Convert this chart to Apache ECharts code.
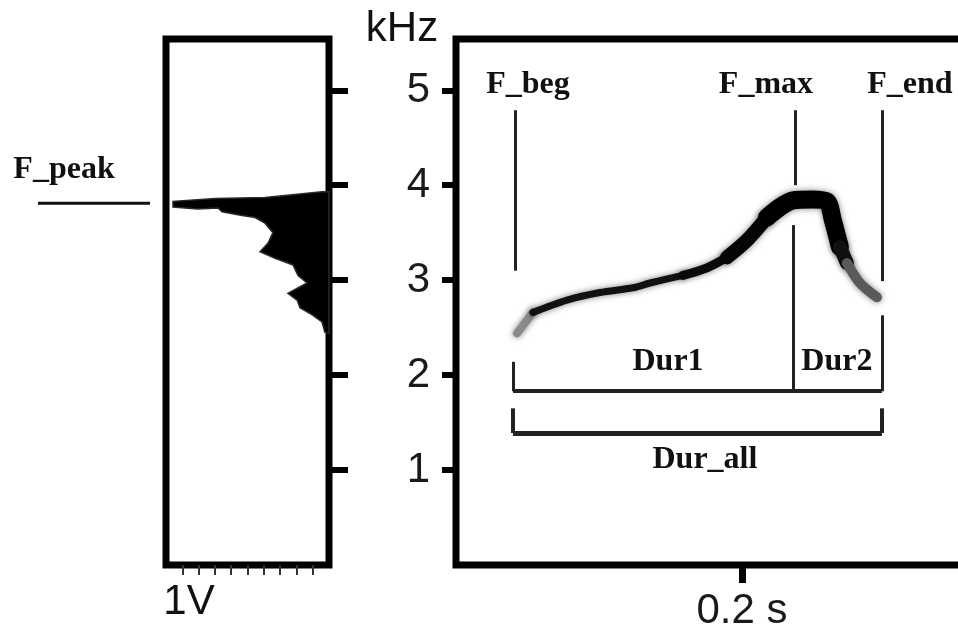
<!DOCTYPE html>
<html>
<head>
<meta charset="utf-8">
<title>F_peak / contour</title>
<script src="https://cdn.jsdelivr.net/npm/echarts@6.0.0/dist/echarts.min.js"></script>
<style>
    html, body {margin:0; padding:0; background:#fff;}
    #chart {width:958px; height:627px;}
</style>
</head>
<body>
<div id="chart"></div>
<script>
// ticks
var freqTicks = [1, 2, 3, 4, 5];
var timeTicks = [0.2];
var ampTicks = [1, 2, 3, 4, 5, 6, 7, 8, 9];

// power spectrum outline (amplitude, kHz), bottom to top and back to the axis
var specAmp  = [0, 0.25, 0.43, 0.98, 1.78, 1.96, 2.52, 1.35, 1.90, 2.21, 3.31, 4.23, 3.74, 3.44, 3.93, 4.54, 5.34, 6.56, 6.81, 8.04, 9.57, 9.57, 6.99, 3.93, 0.43, 0];
var specFreq = [2.44, 2.45, 2.56, 2.63, 2.71, 2.79, 2.86, 2.97, 3.05, 3.16, 3.23, 3.30, 3.39, 3.50, 3.60, 3.66, 3.68, 3.72, 3.76, 3.75, 3.77, 3.83, 3.86, 3.87, 3.93, 3.93];
var fPeak = 3.81;

// frequency contour (s, kHz)
var contourTime = [0.0427, 0.0538, 0.0776, 0.1007, 0.1238, 0.1357, 0.1587, 0.1755, 0.1895, 0.2035, 0.2175, 0.2357, 0.2490, 0.2594, 0.2636, 0.2685, 0.2734, 0.2825, 0.2944];
var contourFreq = [2.44, 2.66, 2.79, 2.87, 2.92, 2.97, 3.05, 3.13, 3.24, 3.42, 3.66, 3.84, 3.85, 3.83, 3.63, 3.35, 3.18, 2.97, 2.82];

// marker times (s)
var tBeg = 0.0413, tMax = 0.2371, tEnd = 0.2979, tDurL = 0.0399, tDurM = 0.2357;

var chart = echarts.init(document.getElementById('chart'));

function pts(a, b){
    var out = [];
    for(var i=a;i<=b;i++){out.push([contourTime[i], contourFreq[i]]);}
    return out;
}
function seg(a, b, w, color){
    return {
        type:'line', xAxisIndex:1, yAxisIndex:1, data:pts(a, b), smooth:0.3,
        showSymbol:false, silent:true, z:3,
        lineStyle:{color:color, width:w, cap:'round', join:'round', shadowBlur:6, shadowColor:'rgba(0,0,0,0.5)'}
    };
}
function ml(t1, f1, t2, f2, w){
    return [{coord:[t1, f1], lineStyle:{width:w || 3}}, {coord:[t2, f2]}];
}

var sansFont = 'Liberation Sans';

var markSeries = {
    type:'line', xAxisIndex:1, yAxisIndex:1, data:[], silent:true, z:2,
    markLine:{
        symbol:'none', silent:true, animation:false,
        label:{show:false},
        lineStyle:{color:'#222', type:'solid', width:3},
        data:[
            ml(tBeg, 4.79, tBeg, 3.10),
            ml(tMax, 4.79, tMax, 4.00),
            ml(tEnd, 4.79, tEnd, 2.99),
            ml(tDurM, 3.58, tDurM, 1.83),
            ml(tEnd, 2.63, tEnd, 1.83),
            ml(tDurL, 2.14, tDurL, 1.83),
            ml(tDurL, 1.83, tEnd, 1.83, 4),
            ml(tDurL, 1.65, tDurL, 1.39, 4),
            ml(tEnd, 1.65, tEnd, 1.39, 4),
            ml(tDurL, 1.39, tEnd, 1.39, 5)
        ]
    }
};

var option = {
    animation:false,
    grid:[
        {left:166, top:39, width:163, height:526, outerBoundsMode:'none', show:true, borderColor:'#000', borderWidth:7},
        {left:456, top:39, width:529, height:526, outerBoundsMode:'none', show:true, borderColor:'#000', borderWidth:7}
    ],
    xAxis:[
        {
            gridIndex:0, type:'value', inverse:true, min:0, max:10,
            axisLine:{show:false}, splitLine:{show:false}, axisLabel:{show:false},
            axisTick:{show:true, customValues:ampTicks, length:10, lineStyle:{color:'#333', width:2}}
        },
        {
            gridIndex:1, type:'value', min:0, max:0.37,
            axisLine:{show:false}, splitLine:{show:false},
            axisTick:{show:true, customValues:timeTicks, length:18, lineStyle:{color:'#000', width:7}},
            axisLabel:{
                customValues:timeTicks, margin:25, fontFamily:sansFont, fontSize:42, color:'#1a1a1a',
                formatter:function(v){return v + ' s';}
            }
        }
    ],
    yAxis:[
        {
            gridIndex:0, type:'value', min:0, max:5.54, position:'right',
            axisLine:{show:false}, splitLine:{show:false}, axisLabel:{show:false},
            axisTick:{show:true, customValues:freqTicks, length:19, lineStyle:{color:'#000', width:6}}
        },
        {
            gridIndex:1, type:'value', min:0, max:5.54,
            axisLine:{show:false}, splitLine:{show:false},
            axisTick:{show:true, customValues:freqTicks, length:14, lineStyle:{color:'#000', width:6}},
            axisLabel:{customValues:freqTicks, margin:26, fontFamily:sansFont, fontSize:42, color:'#1a1a1a'}
        }
    ],
    series:[
        {
            type:'custom', xAxisIndex:0, yAxisIndex:0, silent:true, z:2,
            data:specAmp.map(function(a, i){return [a, specFreq[i]];}),
            renderItem:function(params, api){
                if(params.dataIndex !== 0){return null;}
                var p = [];
                for(var i=0;i<specAmp.length;i++){p.push(api.coord([specAmp[i], specFreq[i]]));}
                return {type:'polygon', shape:{points:p}, style:{fill:'#000', stroke:'#2a2a2a', lineWidth:1.5}};
            }
        },
        markSeries,
        seg(0, 1, 8, '#8a8a8a'),
        seg(1, 6, 7, '#111'),
        seg(6, 8, 9, '#0a0a0a'),
        seg(8, 10, 14, '#050505'),
        seg(10, 15, 18, '#000'),
        seg(15, 16, 14, '#111'),
        seg(16, 18, 10, '#5a5a5a')
    ]
};
chart.setOption(option);

// text annotations placed through the axes
function px(g, t, f){return chart.convertToPixel({gridIndex:g}, [t, f]);}
var serif = 'bold 32px "Liberation Serif"';
function txt(p, s, font){
    return {type:'text', x:p[0], y:p[1], z:10, silent:true,
        style:{text:s, font:font || serif, fill:'#111', align:'center', verticalAlign:'middle'}};
}
var peakY = px(0, 0, fPeak)[1];
chart.setOption({graphic:[
    {type:'line', silent:true, shape:{x1:38, y1:peakY, x2:150, y2:peakY}, style:{stroke:'#111', lineWidth:3}},
    txt([64, 170], 'F_peak'),
    txt(px(1, 0.0503, 5.06), 'F_beg'),
    txt(px(1, 0.2168, 5.06), 'F_max'),
    txt(px(1, 0.3175, 5.06), 'F_end'),
    txt(px(1, 0.1483, 2.14), 'Dur1'),
    txt(px(1, 0.2664, 2.14), 'Dur2'),
    txt(px(1, 0.1741, 1.11), 'Dur_all'),
    txt([402, 29], 'kHz', '42px "Liberation Sans"'),
    txt([189, 602], '1V', '42px "Liberation Sans"')
]});
</script>
</body>
</html>
